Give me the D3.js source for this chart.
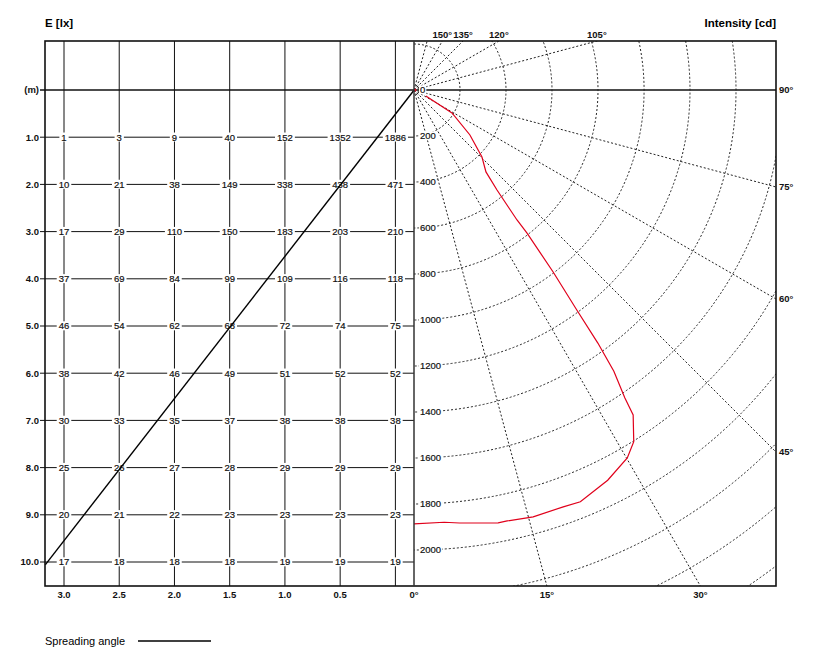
<!DOCTYPE html>
<html>
<head>
<meta charset="utf-8">
<script src="https://cdn.jsdelivr.net/npm/d3@7"></script>
<style>
  body { margin: 0; background: #fff; }
  svg { font-family: "Liberation Sans", Arial, sans-serif; }
  .lbl { font-weight: bold; font-size: 9.5px; fill: #111; }
  .val { font-size: 9.5px; fill: #111; stroke: #111; stroke-width: 0.2px; }
</style>
</head>
<body>
<div id="chart"></div>
<script>
// distances (m) and column offsets (m)
const rows = [1, 2, 3, 4, 5, 6, 7, 8, 9, 10];
const cols = [3.0, 2.5, 2.0, 1.5, 1.0, 0.5, 0.0];
const colLabels = ["3.0", "2.5", "2.0", "1.5", "1.0", "0.5", ""];

// illuminance E [lx], one array per row, left to right
const lux = [
  [1, 3, 9, 40, 152, 1352, 1886],
  [10, 21, 38, 149, 338, 438, 471],
  [17, 29, 110, 150, 183, 203, 210],
  [37, 69, 84, 99, 109, 116, 118],
  [46, 54, 62, 68, 72, 74, 75],
  [38, 42, 46, 49, 51, 52, 52],
  [30, 33, 35, 37, 38, 38, 38],
  [25, 26, 27, 28, 29, 29, 29],
  [20, 21, 22, 23, 23, 23, 23],
  [17, 18, 18, 18, 19, 19, 19]
];

// spreading angle line (offset m, distance m)
const spread = [[-0.17, 0], [3.17, 10.06]];

// polar grid
const rings = [200, 400, 600, 800, 1000, 1200, 1400, 1600, 1800, 2000, 2200, 2400, 2600];
const ringLabels = [0, 200, 400, 600, 800, 1000, 1200, 1400, 1600, 1800, 2000];
const spokes = [15, 30, 45, 60, 75, 105, 120, 135, 150, 165];
const bottomAngles = [0, 15, 30];
const rightAngles = [45, 60, 75, 90];
const topAngles = [105, 120, 135, 150];

// luminous intensity curve [angle deg, cd]
const intensity = [
  [0, 1886], [4, 1884], [6, 1893], [11, 1917], [12.2, 1917], [15.6, 1927],
  [19.7, 1925], [22, 1931], [26.4, 1894], [30.1, 1849], [32, 1803], [34, 1704],
  [34.4, 1623], [35.4, 1500], [36, 1360], [36.5, 1190], [37.4, 996], [38.3, 793],
  [38.4, 721], [39.7, 565], [41.3, 474], [45.4, 415], [51.2, 312], [58.8, 193], [63, 58]
];

const W = 825, H = 653;
const frL = 45, frR = 776, frT = 41, frB = 586, mid = 414;

const svg = d3.select("#chart").append("svg")
  .attr("width", W).attr("height", H);

const x = d3.scaleLinear().domain([3, 0]).range([64, 395.4]);
const y = d3.scaleLinear().domain([0, 10]).range([90, 562]);
const r = d3.scaleLinear().domain([0, 2000]).range([0, 460]);
const cx = mid, cy = y(0);

function addBg(sel, padX) {
  sel.each(function () {
    const node = this;
    const b = node.getBBox();
    d3.select(node.parentNode).insert("rect", () => node)
      .attr("x", b.x - padX).attr("y", b.y + 1)
      .attr("width", b.width + 2 * padX).attr("height", b.height - 2)
      .attr("fill", "#fff");
  });
}

// ---- left grid
const grid = svg.append("g");
grid.selectAll(".row").data([0].concat(rows)).enter().append("line")
  .attr("x1", frL - 5).attr("x2", mid)
  .attr("y1", d => y(d)).attr("y2", d => y(d))
  .attr("stroke", "#111").attr("stroke-width", d => d === 0 ? 1.3 : 1);
// horizontal through the light centre continues on the right
grid.append("line")
  .attr("x1", mid).attr("x2", frR).attr("y1", cy).attr("y2", cy)
  .attr("stroke", "#111").attr("stroke-width", 1.3);
grid.selectAll(".col").data(cols).enter().append("line")
  .attr("x1", d => x(d)).attr("x2", d => x(d))
  .attr("y1", frT).attr("y2", frB)
  .attr("stroke", "#111").attr("stroke-width", 1);

const cells = [];
lux.forEach((row, i) => row.forEach((v, j) => cells.push({ d: rows[i], h: cols[j], v })));
const valG = svg.append("g");
valG.selectAll("text").data(cells).enter().append("text")
  .attr("class", "val")
  .attr("x", d => x(d.h)).attr("y", d => y(d.d))
  .attr("dy", "0.35em").attr("text-anchor", "middle")
  .text(d => d.v)
  .call(addBg, 2);

svg.selectAll(".rowlbl").data(rows).enter().append("text")
  .attr("class", "lbl").attr("x", 39).attr("y", d => y(d))
  .attr("dy", "0.35em").attr("text-anchor", "end")
  .text(d => d.toFixed(1));
svg.append("text").attr("class", "lbl").attr("x", 39).attr("y", y(0))
  .attr("dy", "0.35em").attr("text-anchor", "end").text("(m)");

svg.selectAll(".collbl").data(cols.filter((c, i) => colLabels[i])).enter().append("text")
  .attr("class", "lbl").attr("x", d => x(d)).attr("y", 598)
  .attr("text-anchor", "middle").text(d => d.toFixed(1));

// ---- polar part
const clip = svg.append("clipPath").attr("id", "pclip");
clip.append("rect").attr("x", mid).attr("y", frT)
  .attr("width", frR - mid).attr("height", frB - frT);
const polar = svg.append("g").attr("clip-path", "url(#pclip)");

polar.selectAll(".ring").data(rings).enter().append("path")
  .attr("d", d => {
    const p = d3.path();
    p.moveTo(cx, cy - r(d));
    p.arc(cx, cy, r(d), -Math.PI / 2, Math.PI / 2);
    return p.toString();
  })
  .attr("fill", "none").attr("stroke", "#222")
  .attr("stroke-width", 1).attr("stroke-dasharray", "2,2");

const rad = a => a * Math.PI / 180;
polar.selectAll(".spoke").data(spokes).enter().append("line")
  .attr("x1", cx).attr("y1", cy)
  .attr("x2", d => cx + 1000 * Math.sin(rad(d)))
  .attr("y2", d => cy + 1000 * Math.cos(rad(d)))
  .attr("stroke", "#222").attr("stroke-width", 1).attr("stroke-dasharray", "2,2");

const curve = d3.line()
  .x(d => cx + r(d[1]) * Math.sin(rad(d[0])))
  .y(d => cy + r(d[1]) * Math.cos(rad(d[0])))
  .curve(d3.curveLinear);
polar.append("path").datum(intensity)
  .attr("d", curve).attr("fill", "none")
  .attr("stroke", "#e0001b").attr("stroke-width", 1.2);
polar.append("circle").attr("cx", cx + 1).attr("cy", cy).attr("r", 1.5).attr("fill", "#e0001b");

svg.append("g").selectAll("text").data(ringLabels).enter().append("text")
  .attr("class", "val").attr("x", cx + 6).attr("y", d => cy + r(d))
  .attr("dy", "0.35em").text(d => d)
  .call(addBg, 1);

// angle labels where spokes meet the frame
svg.selectAll(".ab").data(bottomAngles).enter().append("text")
  .attr("class", "lbl").attr("text-anchor", "middle").attr("y", 598)
  .attr("x", d => cx + (frB - cy) * Math.tan(rad(d)))
  .text(d => d + "°");
svg.selectAll(".ar").data(rightAngles).enter().append("text")
  .attr("class", "lbl").attr("x", frR + 3).attr("dy", "0.35em")
  .attr("y", d => d === 90 ? cy : cy + (frR - cx) / Math.tan(rad(d)))
  .text(d => d + "°");
svg.selectAll(".at").data(topAngles).enter().append("text")
  .attr("class", "lbl").attr("text-anchor", "middle").attr("y", 38)
  .attr("x", d => cx + (cy - frT) * Math.tan(rad(180 - d)))
  .text(d => d + "°");

// spreading angle
svg.append("line")
  .attr("x1", x(spread[0][0])).attr("y1", y(spread[0][1]))
  .attr("x2", x(spread[1][0])).attr("y2", y(spread[1][1]))
  .attr("stroke", "#000").attr("stroke-width", 1.4);

// frame
svg.append("rect").attr("x", frL).attr("y", frT)
  .attr("width", frR - frL).attr("height", frB - frT)
  .attr("fill", "none").attr("stroke", "#111").attr("stroke-width", 1.6);
svg.append("line").attr("x1", mid).attr("x2", mid).attr("y1", frT).attr("y2", frB)
  .attr("stroke", "#333").attr("stroke-width", 1.5);

// titles
svg.append("text").attr("x", frL).attr("y", 27)
  .style("font-weight", "bold").style("font-size", "11.5px").text("E [lx]");
svg.append("text").attr("x", frR).attr("y", 27).attr("text-anchor", "end")
  .style("font-weight", "bold").style("font-size", "11.5px").text("Intensity [cd]");

// legend
svg.append("text").attr("x", frL).attr("y", 645)
  .style("font-size", "11px").text("Spreading angle");
svg.append("line").attr("x1", 138).attr("x2", 211).attr("y1", 641).attr("y2", 641)
  .attr("stroke", "#000").attr("stroke-width", 1.4);
</script>
</body>
</html>
